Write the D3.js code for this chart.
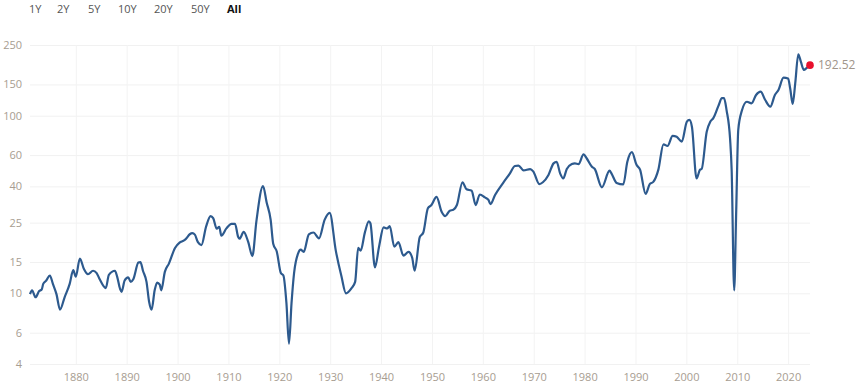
<!DOCTYPE html>
<html>
<head>
<meta charset="utf-8">
<script src="https://cdn.jsdelivr.net/npm/d3@7/dist/d3.min.js"></script>
<style>
  html, body { margin: 0; padding: 0; background: #fff; }
  svg { display: block; font-family: "Open Sans", "Noto Sans", sans-serif; }
</style>
</head>
<body>
<svg id="chart" width="858" height="391"></svg>
<script>
// ── Data ─────────────────────────────────────────────
const years = [
  1871.0, 1871.4, 1872.1, 1872.8, 1873.3, 1873.6, 1874.2, 1874.9, 1875.5, 1876.2,
  1876.9, 1877.8, 1878.8, 1879.5, 1880.0, 1880.8, 1881.6, 1882.4, 1883.4, 1884.1,
  1884.7, 1885.9, 1886.5, 1887.7, 1888.1, 1888.7, 1889.0, 1889.6, 1890.3, 1890.8,
  1891.3, 1892.3, 1892.7, 1893.2, 1893.9, 1894.4, 1894.9, 1895.5, 1896.0, 1896.5,
  1896.8, 1897.5, 1898.3, 1899.5, 1900.4, 1901.2, 1901.6, 1902.4, 1902.9, 1903.4,
  1904.0, 1904.7, 1905.6, 1906.5, 1907.0, 1907.7, 1908.2, 1908.6, 1909.6, 1910.6,
  1911.3, 1911.9, 1912.2, 1913.0, 1913.9, 1914.7, 1915.5, 1916.8, 1917.5, 1918.3,
  1918.8, 1919.5, 1920.3, 1920.8, 1921.4, 1921.9, 1922.4, 1922.9, 1923.7, 1924.2,
  1924.8, 1925.8, 1926.7, 1927.8, 1928.9, 1929.9, 1931.1, 1932.2, 1933.1, 1934.2,
  1934.9, 1935.5, 1936.0, 1936.8, 1937.6, 1937.9, 1938.8, 1939.6, 1940.5, 1941.2,
  1941.7, 1942.6, 1943.4, 1944.4, 1945.4, 1946.1, 1946.6, 1947.6, 1948.3, 1949.2,
  1949.9, 1950.9, 1951.9, 1952.6, 1953.5, 1954.2, 1954.9, 1956.0, 1956.8, 1957.8,
  1958.6, 1959.4, 1960.4, 1961.1, 1961.5, 1962.4, 1964.0, 1965.3, 1966.3, 1967.0,
  1968.0, 1969.3, 1969.9, 1971.1, 1971.8, 1972.9, 1973.9, 1974.5, 1975.2, 1975.8,
  1976.5, 1977.5, 1978.1, 1978.8, 1979.8, 1980.4, 1981.4, 1982.0, 1983.4, 1984.9,
  1985.3, 1986.3, 1987.6, 1988.4, 1989.3, 1990.2, 1990.9, 1992.0, 1992.8, 1993.5,
  1994.5, 1995.5, 1996.3, 1997.3, 1998.1, 1999.1, 2000.1, 2000.6, 2001.1, 2002.0,
  2002.7, 2003.0, 2004.0, 2004.7, 2005.3, 2006.3, 2007.0, 2007.4, 2007.9, 2008.6,
  2008.9, 2009.4, 2009.8, 2010.2, 2010.9, 2011.9, 2012.8, 2013.7, 2014.6, 2015.5,
  2016.5, 2017.4, 2018.1, 2019.1, 2020.0, 2020.4, 2020.9, 2021.4, 2022.0, 2022.5,
  2023.1, 2023.6, 2024.3
];
const values = [
  9.9, 10.4, 9.5, 10.3, 10.5, 11.3, 11.8, 12.6, 11.3, 9.9,
  8.1, 9.5, 11.3, 13.5, 12.4, 15.7, 13.7, 12.8, 13.4, 13.0,
  12.0, 10.7, 12.7, 13.4, 12.5, 10.6, 10.2, 11.8, 12.3, 11.6,
  12.0, 14.9, 15.0, 13.4, 11.6, 9.0, 8.1, 10.4, 11.5, 11.2,
  10.4, 13.2, 14.7, 18.0, 19.3, 19.8, 20.2, 21.5, 21.8, 21.4,
  19.4, 18.7, 23.7, 27.2, 26.5, 23.1, 23.7, 21.1, 23.2, 24.6,
  24.6, 20.8, 20.3, 22.2, 19.4, 16.2, 25.5, 40.2, 32.6, 25.9,
  19.0, 17.2, 13.0, 12.6, 8.8, 5.2, 8.8, 13.0, 16.8, 17.6,
  17.1, 21.5, 22.0, 20.4, 25.9, 28.4, 17.4, 12.5, 10.0, 10.7,
  11.6, 18.0, 17.4, 21.9, 25.4, 24.8, 14.0, 18.3, 23.5, 23.2,
  23.9, 18.3, 19.4, 16.3, 17.1, 15.9, 13.4, 20.7, 22.0, 30.1,
  31.4, 34.9, 28.8, 27.2, 29.2, 29.5, 31.4, 42.2, 38.5, 37.8,
  31.4, 36.0, 34.7, 33.6, 31.8, 35.8, 41.9, 47.2, 52.1, 52.4,
  49.2, 50.0, 48.6, 41.2, 42.2, 46.4, 53.9, 55.0, 47.2, 44.3,
  50.1, 53.4, 53.9, 53.4, 60.5, 57.6, 51.7, 50.1, 39.5, 49.0,
  47.2, 41.8, 41.0, 55.0, 62.3, 52.9, 49.7, 36.3, 41.2, 42.4,
  49.7, 69.0, 67.5, 77.0, 76.0, 71.4, 92.5, 94.6, 86.4, 44.3,
  49.7, 50.1, 81.3, 92.5, 96.8, 113.5, 125.5, 125.5, 107.5, 73.5,
  49.7, 10.4, 29.5, 83.3, 106.5, 119.8, 117.3, 130.8, 136.6, 122.5,
  112.4, 130.8, 139.6, 163.7, 162.0, 142.6, 116.4, 152.3, 221.6, 201.5,
  180.9, 185.0, 192.52
];
const yTicks = [4, 6, 10, 15, 25, 40, 60, 100, 150, 250];
const xTicks = [1880, 1890, 1900, 1910, 1920, 1930, 1940, 1950, 1960, 1970, 1980, 1990, 2000, 2010, 2020];
const ranges = ['1Y', '2Y', '5Y', '10Y', '20Y', '50Y', 'All'];

const series = years.map((yr, i) => ({ yr, v: values[i] }));
const last = series[series.length - 1];

// ── Layout ───────────────────────────────────────────
const svg = d3.select('#chart');
const plot = { left: 30, right: 810, top: 45, bottom: 364 };
const labelColor = '#a79d91';

const x = d3.scaleLinear().domain([1871, last.yr]).range([plot.left, plot.right]);
const y = d3.scaleLog().domain([4, 250]).range([plot.bottom, plot.top]);

// ── Range selector ───────────────────────────────────
const rangeX = [29, 57, 88, 118, 154, 191, 227];
svg.append('g').selectAll('text')
  .data(ranges)
  .join('text')
  .attr('x', (d, i) => rangeX[i])
  .attr('y', 13)
  .attr('font-size', '11px')
  .attr('font-weight', d => d === 'All' ? 700 : 400)
  .attr('fill', d => d === 'All' ? '#111' : '#555')
  .text(d => d);

// ── Grid ─────────────────────────────────────────────
svg.append('g')
  .attr('transform', `translate(${plot.left},0)`)
  .call(d3.axisLeft(y).tickValues(yTicks).tickSize(-(plot.right - plot.left)).tickFormat(''))
  .call(g => g.select('.domain').remove())
  .call(g => g.selectAll('.tick line').attr('stroke', '#f1f1f1'));

svg.append('g')
  .attr('transform', `translate(0,${plot.bottom})`)
  .call(d3.axisBottom(x).tickValues(xTicks).tickSize(-(plot.bottom - plot.top)).tickFormat(''))
  .call(g => g.select('.domain').remove())
  .call(g => g.selectAll('.tick line').attr('stroke', '#f3f3f3'));

// ── Axis labels ──────────────────────────────────────
svg.append('g')
  .attr('transform', `translate(${plot.left - 8},0)`)
  .call(d3.axisLeft(y).tickValues(yTicks).tickSize(0).tickPadding(0).tickFormat(d3.format('d')))
  .call(g => g.select('.domain').remove())
  .call(g => g.selectAll('text')
    .attr('fill', labelColor)
    .attr('font-size', '11px')
    .attr('font-family', '"Open Sans", "Noto Sans", sans-serif'));

svg.append('g')
  .attr('transform', `translate(0,${plot.bottom + 9})`)
  .call(d3.axisBottom(x).tickValues(xTicks).tickSize(0).tickPadding(0).tickFormat(d3.format('d')))
  .call(g => g.select('.domain').remove())
  .call(g => g.selectAll('text')
    .attr('fill', labelColor)
    .attr('font-size', '11px')
    .attr('font-family', '"Open Sans", "Noto Sans", sans-serif'));

// ── Line ─────────────────────────────────────────────
const line = d3.line()
  .x(d => x(d.yr))
  .y(d => y(d.v))
  .curve(d3.curveMonotoneX);

svg.append('path')
  .datum(series)
  .attr('fill', 'none')
  .attr('stroke', '#2d5a8e')
  .attr('stroke-width', 2.2)
  .attr('stroke-linejoin', 'round')
  .attr('d', line);

// ── Last value marker ────────────────────────────────
svg.append('circle')
  .attr('cx', x(last.yr))
  .attr('cy', y(last.v))
  .attr('r', 3.8)
  .attr('fill', '#e8102c');

svg.append('text')
  .attr('x', x(last.yr) + 8)
  .attr('y', y(last.v) + 4)
  .attr('font-size', '12px')
  .attr('fill', '#a0958a')
  .text(d3.format('.2f')(last.v));
</script>
</body>
</html>
